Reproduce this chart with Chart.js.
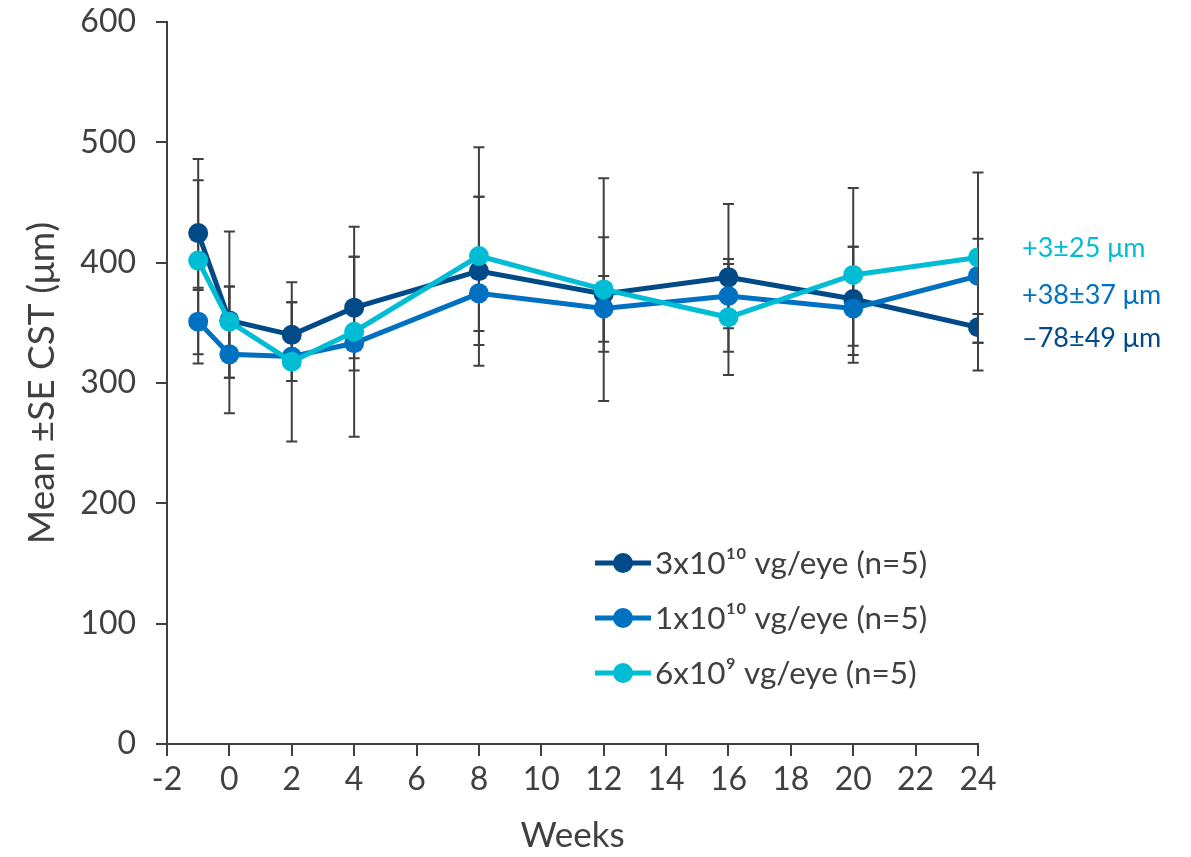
<!DOCTYPE html>
<html>
<head>
<meta charset="utf-8">
<script src="https://cdn.jsdelivr.net/npm/chart.js@4.4.1/dist/chart.umd.min.js"></script>
<style>
  html, body { margin: 0; padding: 0; background: #ffffff; }
  canvas { display: block; }
</style>
</head>
<body>
<canvas id="cst" width="1191" height="857"></canvas>
<script>
// Visit weeks (week -1 = screening)
const weeks = [-1, 0, 2, 4, 8, 12, 16, 20, 24];

// Mean central subfield thickness (µm) per dose cohort
const dose3e10 = [424.6, 352, 340, 362.6, 393, 374, 387.8, 369.8, 346.3];
const dose1e10 = [351, 323.8, 322, 333, 374.5, 362, 372.3, 362, 389];
const dose6e9  = [401.7, 351, 317.7, 342.6, 405.5, 377.8, 354.6, 389.8, 404.4];

// Standard-error bar ends (µm)
const dose3e10High = [486.2, 425.8, 383.7, 429.9, 495.9, 470.1, 448.8, 413.3, 357.3];
const dose3e10Low  = [377.3, 274.8, 301.7, 310.3, 331.6, 326, 326, 323.3, 310.3];
const dose1e10High = [379.2, 380.1, 367.1, 405, 454.8, 421.1, 403.1, 462.1, 419.9];
const dose1e10Low  = [323.9, 304.4, 251.3, 255.4, 314.4, 285, 306.7, 316.9, 333.5];
const dose6e9High  = [468.5, 380.1, 367.1, 405, 454.8, 388.9, 398.9, 413.3, 475];
const dose6e9Low   = [316.3, 304.4, 301.7, 320.5, 343.2, 334.3, 345.4, 331, 333.5];

// Cohort labels and change from baseline at week 24
const cohortLabels = ['3x10\u00B9\u2070 vg/eye (n=5)', '1x10\u00B9\u2070 vg/eye (n=5)', '6x10\u2079 vg/eye (n=5)'];
const changeNotes = ['\u201378\u00B149 \u03BCm', '+38\u00B137 \u03BCm', '+3\u00B125 \u03BCm'];

// Axis ticks
const xTicks = [-2, 0, 2, 4, 6, 8, 10, 12, 14, 16, 18, 20, 22, 24];
const yTicks = [0, 100, 200, 300, 400, 500, 600];

const colors = ['#004a87', '#0070c0', '#00bcd4'];
const inkGray = '#404040';
const fontFamily = 'Lato, "Open Sans", sans-serif';

const toPoints = vals => vals.map((v, i) => ({ x: weeks[i], y: v }));

function series(idx, values, hi, lo, order) {
  return {
    label: cohortLabels[idx],
    data: toPoints(values),
    errHigh: hi,
    errLow: lo,
    borderColor: colors[idx],
    backgroundColor: colors[idx],
    pointBackgroundColor: colors[idx],
    pointBorderColor: colors[idx],
    borderWidth: 5,
    pointRadius: 10,
    pointHoverRadius: 10,
    pointBorderWidth: 0,
    tension: 0,
    order: order,
    note: changeNotes[idx]
  };
}

// Vertical SE bars with caps, drawn beneath the lines
const errorBars = {
  id: 'errorBars',
  beforeDatasetsDraw(chart) {
    const { ctx, scales: { x, y } } = chart;
    const cap = 5.5;
    ctx.save();
    ctx.strokeStyle = inkGray;
    ctx.lineWidth = 2;
    chart.data.datasets.forEach(ds => {
      ds.errHigh.forEach((hi, i) => {
        const px = x.getPixelForValue(weeks[i]);
        const pH = y.getPixelForValue(hi);
        const pL = y.getPixelForValue(ds.errLow[i]);
        ctx.beginPath();
        ctx.moveTo(px, pH); ctx.lineTo(px, pL);
        ctx.moveTo(px - cap, pH); ctx.lineTo(px + cap, pH);
        ctx.moveTo(px - cap, pL); ctx.lineTo(px + cap, pL);
        ctx.stroke();
      });
    });
    ctx.restore();
  }
};

// Line-and-marker legend inside the plot area
const lineLegend = {
  id: 'lineLegend',
  afterDatasetsDraw(chart, args, opts) {
    const { ctx } = chart;
    ctx.save();
    ctx.font = opts.fontSize + 'px ' + fontFamily;
    ctx.textBaseline = 'middle';
    ctx.textAlign = 'left';
    chart.data.datasets.forEach((ds, i) => {
      const y = opts.y + i * opts.rowGap;
      ctx.strokeStyle = ds.borderColor;
      ctx.lineWidth = 5;
      ctx.beginPath();
      ctx.moveTo(opts.x, y);
      ctx.lineTo(opts.x + opts.lineLen, y);
      ctx.stroke();
      ctx.fillStyle = ds.borderColor;
      ctx.beginPath();
      ctx.arc(opts.x + opts.lineLen / 2, y, 10, 0, Math.PI * 2);
      ctx.fill();
      ctx.fillStyle = inkGray;
      ctx.fillText(ds.label, opts.x + opts.lineLen + 4, y + 1);
    });
    ctx.restore();
  }
};

// Week-24 change notes to the right of the plot
const changeLabels = {
  id: 'changeLabels',
  afterDraw(chart, args, opts) {
    const { ctx, chartArea } = chart;
    ctx.save();
    ctx.font = opts.fontSize + 'px ' + fontFamily;
    ctx.textBaseline = 'middle';
    ctx.textAlign = 'left';
    chart.data.datasets.forEach((ds, i) => {
      ctx.fillStyle = ds.borderColor;
      ctx.fillText(ds.note, chartArea.right + opts.dx, opts.rows[i]);
    });
    ctx.restore();
  }
};

new Chart(document.getElementById('cst'), {
  type: 'line',
  data: {
    datasets: [
      series(0, dose3e10, dose3e10High, dose3e10Low, 3),
      series(1, dose1e10, dose1e10High, dose1e10Low, 2),
      series(2, dose6e9, dose6e9High, dose6e9Low, 1)
    ]
  },
  options: {
    responsive: false,
    animation: false,
    events: [],
    layout: { padding: { top: 22, right: 213, bottom: 0, left: 0 } },
    plugins: {
      legend: { display: false },
      tooltip: { enabled: false },
      lineLegend: { x: 595, y: 563, rowGap: 55, lineLen: 56, fontSize: 31.5 },
      changeLabels: { dx: 44, rows: [338, 295, 248], fontSize: 27 }
    },
    scales: {
      x: {
        type: 'linear',
        min: -2,
        max: 24,
        afterBuildTicks: axis => { axis.ticks = xTicks.map(v => ({ value: v })); },
        afterFit: axis => { axis.height = 113; axis.paddingLeft = 0; axis.paddingRight = 0; },
        grid: { display: true, drawOnChartArea: false, drawTicks: true, tickLength: 12, color: inkGray, lineWidth: 2 },
        border: { display: true, color: inkGray, width: 2 },
        ticks: { color: inkGray, font: { family: fontFamily, size: 32 }, padding: 4, maxRotation: 0, autoSkip: false },
        title: { display: true, text: 'Weeks', color: inkGray, font: { family: fontFamily, size: 35 }, padding: { top: 0, bottom: 0 } }
      },
      y: {
        type: 'linear',
        min: 0,
        max: 600,
        afterBuildTicks: axis => { axis.ticks = yTicks.map(v => ({ value: v })); },
        afterFit: axis => { axis.width = 167; axis.paddingTop = 0; axis.paddingBottom = 0; },
        grid: { display: true, drawOnChartArea: false, drawTicks: true, tickLength: 11, color: inkGray, lineWidth: 2 },
        border: { display: true, color: inkGray, width: 2 },
        ticks: { color: inkGray, font: { family: fontFamily, size: 32 }, padding: 20 },
        title: { display: true, text: 'Mean \u00B1SE CST (\u03BCm)', color: inkGray, font: { family: fontFamily, size: 37 }, padding: { top: 20, bottom: 0 } }
      }
    }
  },
  plugins: [errorBars, lineLegend, changeLabels]
});
</script>
</body>
</html>
